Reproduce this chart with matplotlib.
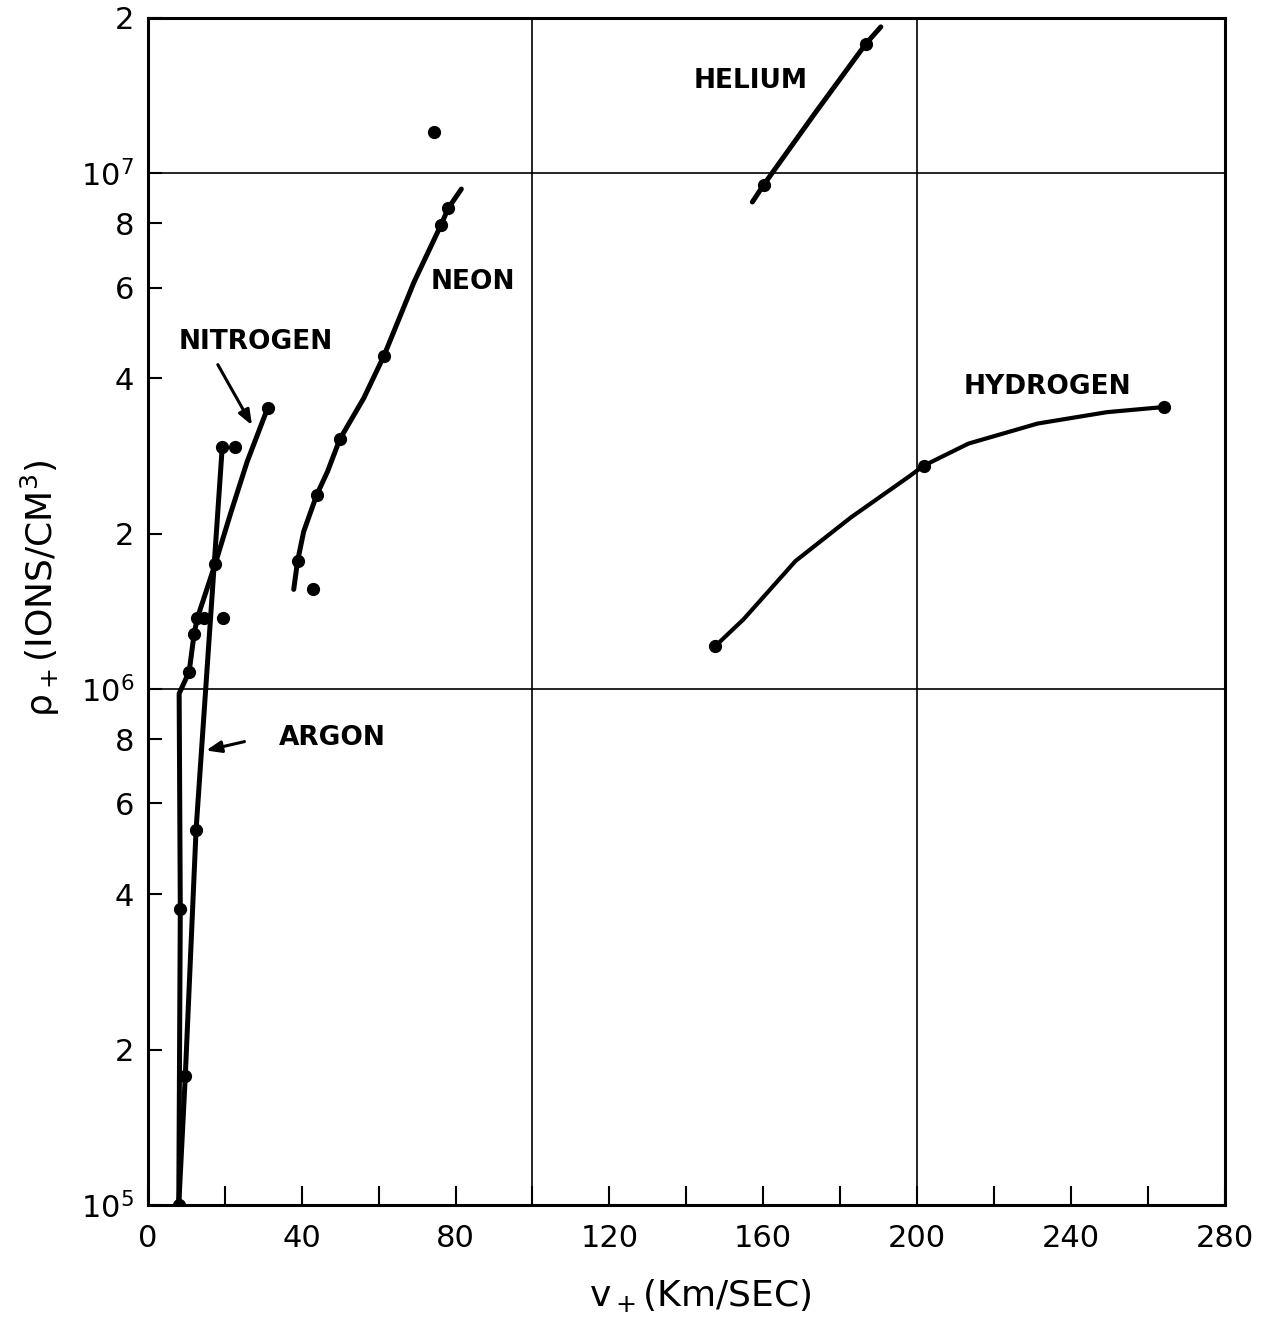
import matplotlib
matplotlib.use("Agg")
import matplotlib.pyplot as plt
from matplotlib.ticker import FixedLocator, MultipleLocator, NullLocator

plt.rcParams['font.family'] = ['DejaVu Sans']
plt.rcParams['mathtext.default'] = 'regular'

# ---- data (v in km/s, rho in ions/cm^3) ----
argon_v = [8.0, 9.7, 12.5, 19.3]
argon_rho = [1.0e5, 1.78e5, 5.33e5, 2.94e6]

nitrogen_v = [8.0, 8.4, 8.1, 10.7, 12.0, 12.8, 17.5, 21.4, 25.8, 31.1]
nitrogen_rho = [1.0e5, 3.74e5, 9.8e5, 1.08e6, 1.28e6, 1.37e6, 1.75e6, 2.18e6, 2.76e6, 3.5e6]
nitrogen_dots_v = [8.4, 10.7, 12.0, 12.8, 17.5, 31.1]
nitrogen_dots_rho = [3.74e5, 1.08e6, 1.28e6, 1.37e6, 1.75e6, 3.5e6]

neon_v = [37.9, 38.9, 40.5, 43.9, 46.7, 49.9, 56.1, 61.4, 69.2, 76.2, 78.1, 81.5]
neon_rho = [1.56e6, 1.77e6, 2.02e6, 2.38e6, 2.64e6, 3.05e6, 3.66e6, 4.43e6, 6.15e6, 7.93e6, 8.55e6, 9.31e6]
neon_dots_v = [38.9, 43.9, 49.9, 61.4, 76.2, 78.1]
neon_dots_rho = [1.77e6, 2.38e6, 3.05e6, 4.43e6, 7.93e6, 8.55e6]

helium_v = [157.2, 160.1, 173.6, 186.7, 190.6]
helium_rho = [8.79e6, 9.48e6, 1.31e7, 1.78e7, 1.92e7]
helium_dots_v = [160.1, 186.7]
helium_dots_rho = [9.48e6, 1.78e7]

hydrogen_v = [147.5, 154.9, 168.4, 182.8, 197.9, 201.8, 213.4, 231.4, 249.4, 264.2]
hydrogen_rho = [1.21e6, 1.365e6, 1.77e6, 2.15e6, 2.58e6, 2.71e6, 2.99e6, 3.27e6, 3.44e6, 3.52e6]
hydrogen_dots_v = [147.5, 201.8, 264.2]
hydrogen_dots_rho = [1.21e6, 2.71e6, 3.52e6]

stray_v = [14.6, 19.6, 22.7, 42.8, 74.4]
stray_rho = [1.37e6, 1.37e6, 2.94e6, 1.56e6, 1.2e7]

ytick_vals = [1e5, 2e5, 4e5, 6e5, 8e5, 1e6, 2e6, 4e6, 6e6, 8e6, 1e7, 2e7]
ytick_labels = ['$10^5$', '2', '4', '6', '8', '$10^6$', '2', '4', '6', '8', '$10^7$', '2']
xtick_vals = [0, 40, 80, 120, 160, 200, 240, 280]

fig = plt.figure(figsize=(12.65, 13.25), dpi=100)
ax = fig.add_axes([0.117, 0.0906, 0.851, 0.896])

ax.set_yscale('log')
ax.set_xlim(0, 280)
ax.set_ylim(1e5, 2e7)

# grid lines
for gx in [100, 200]:
    ax.axvline(gx, color='black', lw=1.2, zorder=1)
for gy in [1e6, 1e7]:
    ax.axhline(gy, color='black', lw=1.2, zorder=1)

lw = 3.6
ms = 8.5
ax.plot(argon_v, argon_rho, color='black', lw=lw, solid_capstyle='round')
ax.plot(argon_v, argon_rho, 'o', color='black', ms=ms)
ax.plot(nitrogen_v, nitrogen_rho, color='black', lw=lw, solid_capstyle='round')
ax.plot(nitrogen_dots_v, nitrogen_dots_rho, 'o', color='black', ms=ms)
ax.plot(neon_v, neon_rho, color='black', lw=lw, solid_capstyle='round')
ax.plot(neon_dots_v, neon_dots_rho, 'o', color='black', ms=ms)
ax.plot(helium_v, helium_rho, color='black', lw=lw, solid_capstyle='round')
ax.plot(helium_dots_v, helium_dots_rho, 'o', color='black', ms=ms)
ax.plot(hydrogen_v, hydrogen_rho, color='black', lw=3.0, solid_capstyle='round')
ax.plot(hydrogen_dots_v, hydrogen_dots_rho, 'o', color='black', ms=ms)
ax.plot(stray_v, stray_rho, 'o', color='black', ms=ms)

# curve labels
lab = dict(fontsize=19, fontweight='bold', ha='center', va='center')
ax.text(156.7, 1.51e7, 'HELIUM', **lab)
ax.text(84.6, 6.15e6, 'NEON', **lab)
ax.text(27.9, 4.71e6, 'NITROGEN', **lab)
ax.text(48.0, 8.03e5, 'ARGON', **lab)
ax.text(234.0, 3.85e6, 'HYDROGEN', **lab)

arrow = dict(arrowstyle='-|>,head_length=0.9,head_width=0.35', color='black', lw=2.2)
ax.annotate('', xy=(27.4, 3.21e6), xytext=(17.8, 4.3e6), arrowprops=arrow)
ax.annotate('', xy=(14.4, 7.58e5), xytext=(25.8, 7.93e5), arrowprops=arrow)

# axes styling
for side in ['left', 'bottom', 'right', 'top']:
    ax.spines[side].set_linewidth(2.2)

ax.yaxis.set_major_locator(FixedLocator(ytick_vals))
ax.yaxis.set_minor_locator(NullLocator())
ax.set_yticklabels(ytick_labels)
ax.xaxis.set_major_locator(FixedLocator(xtick_vals))
ax.xaxis.set_minor_locator(MultipleLocator(20))

ax.tick_params(axis='y', which='major', direction='in', length=10, width=1.5,
               labelsize=22, pad=10)
ax.tick_params(axis='x', which='both', direction='in', length=14, width=1.5,
               labelsize=22, pad=14)

fig.text(40 / 1265, 1 - 588 / 1325, r'$\rho_+$(IONS/CM$^3$)', rotation=90,
         fontsize=26, ha='center', va='center')
fig.text(700 / 1265, 1 - 1295 / 1325, r'v$_+$(Km/SEC)', fontsize=26,
         ha='center', va='center')

plt.savefig('out.png', dpi=100)
